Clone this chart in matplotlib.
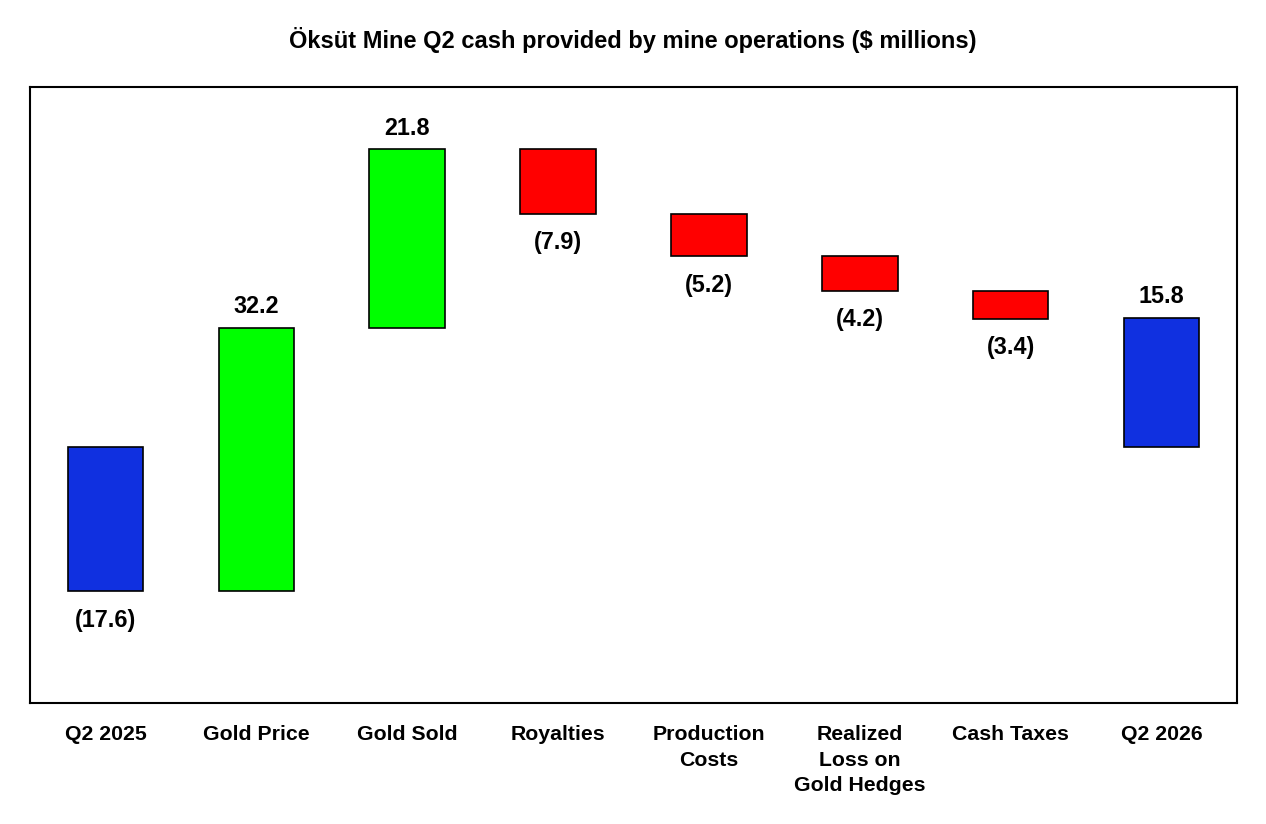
import matplotlib
matplotlib.use("Agg")
import matplotlib.pyplot as plt
import numpy as np

plt.rcParams['font.family'] = ['Liberation Sans', 'DejaVu Sans']

categories = ["Q2 2025", "Gold Price", "Gold Sold", "Royalties", "Production\nCosts",
              "Realized\nLoss on\nGold Hedges", "Cash Taxes", "Q2 2026"]
values = [-17.6, 32.2, 21.8, -7.9, -5.2, -4.2, -3.4, 15.8]
kinds = ["total", "delta", "delta", "delta", "delta", "delta", "delta", "total"]
colors = ["#1030E0", "#00FF00", "#00FF00", "#FF0000", "#FF0000", "#FF0000", "#FF0000", "#1030E0"]

bottoms, heights = [], []
running = 0.0
for v, k in zip(values, kinds):
    if k == "total":
        bottoms.append(0.0)
        heights.append(v)
        running = v
    else:
        bottoms.append(running)
        heights.append(v)
        running += v

fig = plt.figure(figsize=(12.66, 8.24), dpi=100)
ax = fig.add_axes([30/1266, 1-703/824, (1237-30)/1266, (703-87)/824])
x = np.arange(len(categories))
ax.bar(x, heights, bottom=bottoms, width=0.5, color=colors, edgecolor="black", linewidth=1.2)

for xi, b, h, v in zip(x, bottoms, heights, values):
    top = b + h
    if v >= 0:
        ax.annotate(f"{v:.1f}", (xi, top), xytext=(0, 15), textcoords="offset points",
                    ha="center", va="center", fontsize=16.8, fontweight="bold")
    else:
        ax.annotate(f"({abs(v):.1f})", (xi, top), xytext=(0, -21), textcoords="offset points",
                    ha="center", va="center", fontsize=16.8, fontweight="bold")

ax.set_xlim(-0.5, len(categories) - 0.5)
ax.set_ylim(-31.3, 44.0)
ax.set_yticks([])
ax.set_xticks(x)
ax.set_xticklabels(categories, fontsize=15.3, fontweight="bold", linespacing=1.42)
ax.tick_params(axis="x", length=0, pad=16)
for s in ax.spines.values():
    s.set_linewidth(1.5)

fig.suptitle("Öksüt Mine Q2 cash provided by mine operations ($ millions)",
             fontsize=17, fontweight="bold", y=1-40/824, va="center")

fig.savefig("out.png", dpi=100, facecolor="white")
